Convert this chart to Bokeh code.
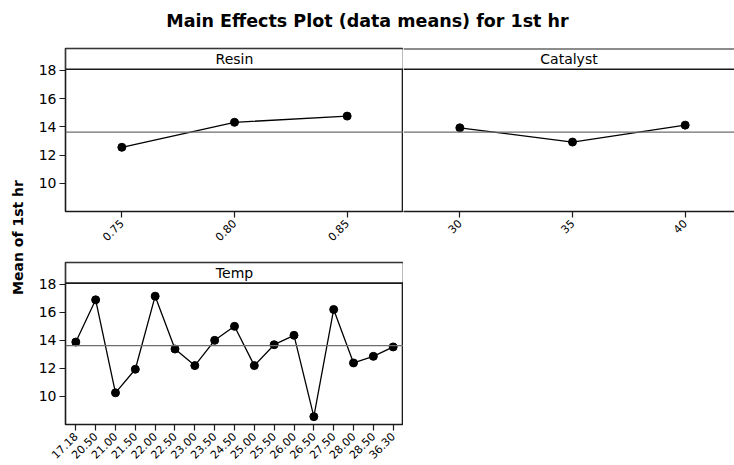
import math
from bokeh.plotting import figure
from bokeh.layouts import column, row
from bokeh.models import (Range1d, FixedTicker, Span, BoxAnnotation, Label)
from bokeh.embed import file_html
from bokeh.resources import INLINE

# ---------------- data ----------------
title_text = "Main Effects Plot (data means) for 1st hr"
y_label = "Mean of 1st hr"

resin_levels = ["0.75", "0.80", "0.85"]
resin_means = [12.55, 14.32, 14.76]

catalyst_levels = ["30", "35", "40"]
catalyst_means = [13.93, 12.92, 14.12]

temp_levels = ["17.18", "20.50", "21.00", "21.50", "22.00", "22.50", "23.00",
               "23.50", "24.50", "25.00", "25.50", "26.00", "26.50", "27.50",
               "28.00", "28.50", "36.30"]
temp_means = [13.88, 16.89, 10.26, 11.94, 17.15, 13.38, 12.20, 14.00, 15.00,
              12.20, 13.69, 14.36, 8.56, 16.20, 12.39, 12.86, 13.53]

grand_mean = 13.62
y_ticks = [10, 12, 14, 16, 18]

# ---------------- style ----------------
FONT = "DejaVu Sans"
Y_LO, Y_HI = 8.0, 19.55
STRIP_BOTTOM = 18.08
FRAME_COLOR = "#1a1a1a"


def panel(name, levels, means, width, height, x_start, x_end, show_y,
          mb_left, mb_right, mb_top, mb_bottom, outline=True):
    xs = list(range(1, len(levels) + 1))
    p = figure(width=width, height=height,
               x_range=Range1d(x_start, x_end), y_range=Range1d(Y_LO, Y_HI),
               output_backend="svg", toolbar_location=None,
               y_axis_location="left" if show_y else None,
               min_border_left=mb_left, min_border_right=mb_right,
               min_border_top=mb_top, min_border_bottom=mb_bottom)
    p.grid.visible = False
    p.background_fill_color = "white"
    p.border_fill_color = "white"
    if outline:
        p.outline_line_color = FRAME_COLOR
        p.outline_line_width = 1.6
    else:
        p.outline_line_color = None

    xa = p.xaxis[0]
    xa.ticker = FixedTicker(ticks=xs)
    xa.major_label_overrides = {x: lab for x, lab in zip(xs, levels)}
    xa.major_label_orientation = math.pi / 4
    xa.major_label_text_font = FONT
    xa.major_label_text_font_size = "11px"
    xa.major_label_text_color = "black"
    xa.major_label_standoff = 4
    xa.major_tick_out = 6
    xa.major_tick_in = 0
    xa.minor_tick_line_color = None
    xa.major_tick_line_color = FRAME_COLOR
    xa.major_tick_line_width = 1.2
    xa.axis_line_color = None if outline else FRAME_COLOR
    xa.axis_line_width = 1.6

    if show_y:
        ya = p.yaxis[0]
        ya.ticker = FixedTicker(ticks=y_ticks)
        ya.major_label_text_font = FONT
        ya.major_label_text_font_size = "14px"
        ya.major_label_text_color = "black"
        ya.major_label_standoff = 3
        ya.major_tick_out = 6
        ya.major_tick_in = 0
        ya.minor_tick_line_color = None
        ya.major_tick_line_color = FRAME_COLOR
        ya.major_tick_line_width = 1.2
        ya.axis_line_color = None

    # reference line at the grand mean
    p.add_layout(Span(location=grand_mean, dimension="width",
                      line_color="#6e6e6e", line_width=1.3))

    # data
    p.line(xs, means, line_color="black", line_width=1.3)
    p.scatter(xs, means, size=8, fill_color="black", line_color="black")

    # strip header
    p.add_layout(BoxAnnotation(bottom=STRIP_BOTTOM, fill_color="white",
                               fill_alpha=1.0,
                               line_color=FRAME_COLOR if outline else None,
                               line_alpha=1.0, line_width=1.6))
    if not outline:
        p.add_layout(Span(location=STRIP_BOTTOM, dimension="width",
                          line_color=FRAME_COLOR, line_width=1.6))
        p.add_layout(Span(location=Y_HI, dimension="width",
                          line_color=FRAME_COLOR, line_width=2))
    p.add_layout(Label(x=(x_start + x_end) / 2, y=(STRIP_BOTTOM + Y_HI) / 2,
                       text=name, text_align="center", text_baseline="middle",
                       text_font=FONT, text_font_size="14px",
                       text_color="black"))
    return p


def text_fig(width, height, text, size, angle=0.0):
    f = figure(width=width, height=height, output_backend="svg",
               toolbar_location=None, x_axis_location=None,
               y_axis_location=None, min_border=0,
               x_range=Range1d(0, 1), y_range=Range1d(0, 1))
    f.outline_line_color = None
    f.grid.visible = False
    f.add_layout(Label(x=0.5, y=0.5, text=text, angle=angle,
                       text_align="center", text_baseline="middle",
                       text_font=FONT, text_font_size=size,
                       text_font_style="bold", text_color="black"))
    return f


title_fig = text_fig(734, 40, title_text, "17.5px")
ylab_fig = text_fig(34, 394, y_label, "14px", angle=math.pi / 2)

resin_fig = panel("Resin", resin_levels, resin_means, 369, 214, 0.5, 3.5,
                  True, 31, 0, 8, 43)
catalyst_fig = panel("Catalyst", catalyst_levels, catalyst_means, 331, 214,
                     0.5, 0.5 + 331 / 112.67, False, 0, 0, 8, 43,
                     outline=False)
temp_fig = panel("Temp", temp_levels, temp_means, 369, 211, 0.48, 17.52,
                 True, 31, 0, 8, 41)

layout = column(title_fig,
                row(ylab_fig, column(row(resin_fig, catalyst_fig), temp_fig)))

open("out.html", "w").write(file_html(layout, INLINE))
